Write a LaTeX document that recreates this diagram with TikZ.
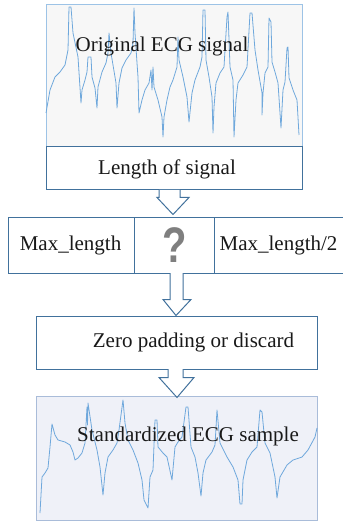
\documentclass[tikz,border=0pt]{standalone}
\usepackage{fontspec}
\usepackage{graphicx}
\setmainfont{Liberation Serif}
\newfontfamily\qfont{Liberation Sans}
\usetikzlibrary{calc}
\definecolor{boxblue}{HTML}{41719C}
\definecolor{ecgedge}{HTML}{9DC3E6}
\definecolor{ecgedgeb}{HTML}{A9BCD9}
\definecolor{ecgline}{HTML}{6FA8DC}
\definecolor{topfill}{HTML}{F7F7F7}
\definecolor{botfill}{HTML}{EFF1F8}
\definecolor{qgray}{HTML}{7F7F7F}
\begin{document}
\begin{tikzpicture}[x=1pt,y=-1pt,
  box/.style={draw=boxblue,line width=1pt,fill=white,rectangle,inner sep=0pt},
  ecgbox/.style={draw=ecgedge,line width=1pt,fill=topfill,rectangle,inner sep=0pt},
  ecgboxb/.style={draw=ecgedgeb,line width=1pt,fill=botfill,rectangle,inner sep=0pt},
  ecg/.style={draw=ecgline,line width=0.8pt,line join=round},
  lbl/.style={font=\fontsize{21}{25}\selectfont,inner sep=0pt,text=black!90},
  qmark/.style={font=\qfont\bfseries\fontsize{50}{50}\selectfont,text=qgray,inner sep=0pt},
  blockarrow/.style={draw=boxblue,line width=1pt,fill=white,line join=miter}]
\useasboundingbox (0,0) rectangle (342,521);

% top ECG box
\node[ecgbox,minimum width=256pt,minimum height=142pt] (orig) at (174,76) {};
\draw[ecg] plot coordinates {(46,113) (50,90) (55,77) (60,72) (65,65) (68,50) (69,7) (71,7) (73,33) (78,57) (81,103) (82,90) (85,80) (87,72) (88,57) (91,57) (92,77) (95,88) (97,108) (98,87) (102,72) (106,63) (108,53) (109,33) (111,53) (113,65) (116,83) (117,108) (119,83) (122,68) (126,60) (131,53) (133,43) (134,8) (135,33) (137,63) (138,77) (139,113) (142,100) (145,90) (149,83) (151,70) (152,90) (153,67) (154,87) (158,100) (162,117) (163,137) (164,117) (167,100) (170,87) (173,80) (177,67) (178,37) (179,60) (183,77) (187,97) (189,122) (192,93) (195,80) (200,67) (202,57) (203,10) (205,10) (206,60) (209,77) (212,97) (213,133) (214,107) (216,83) (220,73) (224,67) (227,17) (228,12) (230,67) (233,80) (234,137) (236,100) (238,83) (243,75) (247,67) (250,13) (252,13) (255,50) (258,70) (262,93) (262,115) (263,93) (265,73) (268,67) (269,18) (271,22) (272,62) (275,72) (278,83) (281,128) (283,90) (285,82) (287,48) (288,47) (289,78) (293,90) (297,100) (299,135)};
\node[lbl,anchor=base] (origt) at (162,52) {Original ECG signal};

% length of signal
\node[box,minimum width=256pt,minimum height=43pt] (len) at (174,168.5) {};
\node[lbl,anchor=base] (lent) at (167,175) {Length of signal};

% max row
\node[box,minimum width=126pt,minimum height=56pt] (maxl) at (71,245) {};
\node[box,minimum width=80pt,minimum height=56pt] (qbox) at (174,245) {};
\node[box,minimum width=132pt,minimum height=56pt] (maxh) at (280,245) {};
\node[lbl,anchor=base] (maxlt) at (70.5,250) {Max\_length};
\node[lbl,anchor=base] (maxht) at (278.5,250) {Max\_length/2};
\node[qmark] (qm) at (175,245) {\scalebox{0.8}[1]{?}};

% zero padding
\node[box,minimum width=281pt,minimum height=53pt] (zero) at (176.5,342.5) {};
\node[lbl,anchor=base] (zerot) at (193.5,347) {Zero padding or discard};

% bottom ECG box
\node[ecgboxb,minimum width=281pt,minimum height=124pt] (std) at (176.5,458) {};
\draw[ecg] plot coordinates {(40,513) (42,477) (45,473) (48,468) (50,447) (52,424) (55,435) (58,440) (65,442) (70,445) (73,452) (75,460) (78,458) (82,453) (85,443) (87,407) (87.5,425) (88,403) (92,430) (97,450) (100,467) (103,495) (105,473) (108,457) (113,450) (117,443) (119,430) (123,400) (125,423) (128,440) (133,450) (138,463) (142,480) (144,500) (148,508) (150,477) (153,470) (155,420) (157,420) (158,447) (163,453) (167,457) (172,480) (175,447) (178,442) (182,437) (186,407) (188,407) (191,447) (195,457) (198,473) (201,496) (203,473) (206,460) (212,452) (215,445) (217,410) (220,443) (227,457) (233,467) (238,480) (240,504) (242,504) (243,480) (247,460) (252,452) (257,447) (260,410) (262,412) (265,443) (270,453) (275,477) (277,498) (280,477) (287,465) (293,460) (302,457) (308,450) (315,437) (317,428)};
\node[lbl,anchor=base] (stdt) at (188,441) {Standardized ECG sample};

% block arrows
\draw[blockarrow] ($(len.south)+(6,-0.5)$) -- ($(len.south)+(6,7)$) -- ($(len.south)+(15,7)$) -- ($(len.south)+(-1,24)$) -- ($(len.south)+(-17,7)$) -- ($(len.south)+(-15,7)$) -- ($(len.south)+(-15,-0.5)$);
\draw[blockarrow] ($(qbox.south)+(9,-0.5)$) -- ($(qbox.south)+(9,26)$) -- ($(qbox.south)+(17,26)$) -- ($(qbox.south)+(2,42)$) -- ($(qbox.south)+(-11,26)$) -- ($(qbox.south)+(-4,26)$) -- ($(qbox.south)+(-4,-0.5)$);
\draw[blockarrow] ($(zero.south)+(6.5,-0.5)$) -- ($(zero.south)+(6.5,8)$) -- ($(zero.south)+(17.5,8)$) -- ($(zero.south)+(0.5,28)$) -- ($(zero.south)+(-17.5,8)$) -- ($(zero.south)+(-8.5,8)$) -- ($(zero.south)+(-8.5,-0.5)$);
\end{tikzpicture}
\end{document}
